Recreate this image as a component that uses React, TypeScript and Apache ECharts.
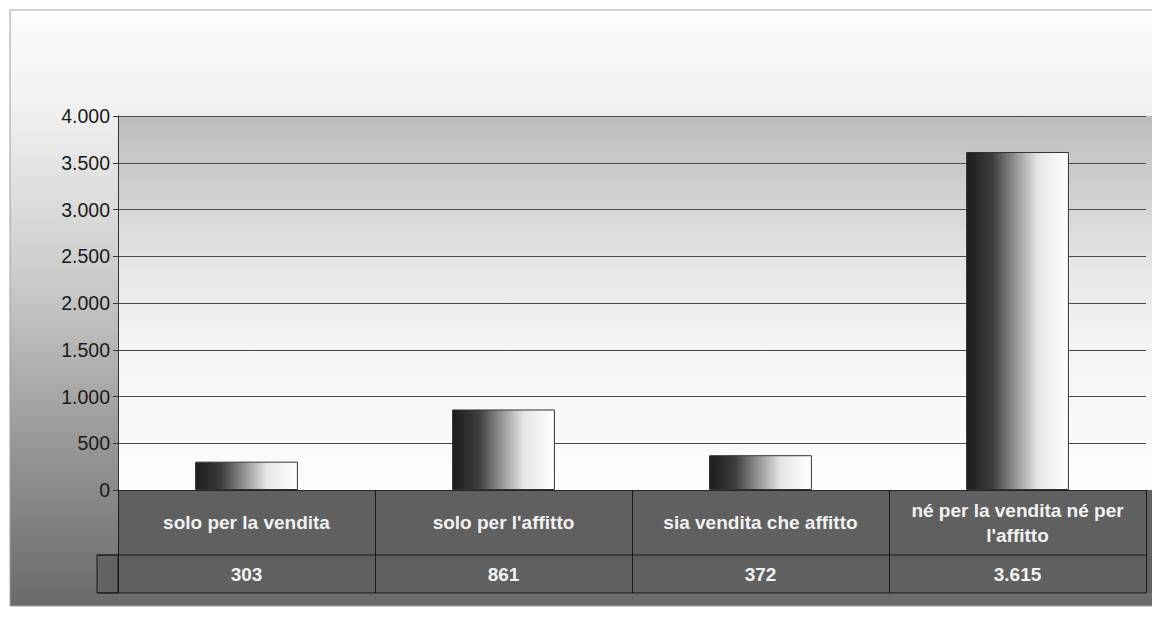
import React, { useEffect, useRef } from "react";
import * as echarts from "echarts";

const categories = [
  "solo per la vendita",
  "solo per l'affitto",
  "sia vendita che affitto",
  "né per la vendita né per\nl'affitto",
];
const values = [303, 861, 372, 3615];
const yMin = 0;
const yMax = 4000;
const yStep = 500;

const fmt = (n: number) => String(n).replace(/\B(?=(\d{3})+(?!\d))/g, ".");
const valueLabels = values.map(fmt);

const FONT = "'Liberation Sans', Arial, sans-serif";

export default function App() {
  const ref = useRef<HTMLDivElement>(null);
  useEffect(() => {
    if (!ref.current) return;
    const chart = echarts.init(ref.current, null, { renderer: "svg" });
    const gridLeft = 118;
    const gridTop = 116;
    const zeroY = 490;
    const row1Bottom = 555;
    const row2Bottom = 593;
    const gridRight = 1146;
    chart.setOption({
      animation: false,
      backgroundColor: "#ffffff",
      graphic: [
        {
          type: "rect",
          z: -10,
          shape: { x: 10, y: 10, width: 1150, height: 596 },
          style: {
            fill: {
              type: "linear", x: 0, y: 0, x2: 0, y2: 1,
              colorStops: [
                { offset: 0, color: "#fdfdfd" },
                { offset: 0.17, color: "#f0f0f0" },
                { offset: 0.45, color: "#cbcbcb" },
                { offset: 0.75, color: "#939393" },
                { offset: 1, color: "#6a6a6a" },
              ],
            },
            stroke: "#a0a0a0",
            lineWidth: 1,
          },
        },
        {
          type: "rect",
          z: -9,
          shape: { x: gridLeft, y: gridTop, width: 1152 - gridLeft, height: zeroY - gridTop },
          style: {
            fill: {
              type: "linear", x: 0, y: 0, x2: 0, y2: 1,
              colorStops: [
                { offset: 0, color: "#bdbdbd" },
                { offset: 0.2, color: "#d0d0d0" },
                { offset: 0.4, color: "#e6e6e6" },
                { offset: 0.6, color: "#f4f4f4" },
                { offset: 1, color: "#fdfdfd" },
              ],
            },
          },
        },
        {
          type: "rect",
          z: -9,
          shape: { x: gridLeft, y: zeroY, width: 1152 - gridLeft, height: row2Bottom - zeroY },
          style: { fill: "#606060" },
        },
        {
          type: "rect",
          z: -9,
          shape: { x: 97, y: row1Bottom, width: gridLeft - 97, height: row2Bottom - row1Bottom },
          style: { fill: "#636363", stroke: "#1a1a1a", lineWidth: 1 },
        },
        {
          type: "line",
          z: 10,
          shape: { x1: 97, y1: row1Bottom, x2: gridRight, y2: row1Bottom },
          style: { stroke: "#1a1a1a", lineWidth: 1 },
        },
        {
          type: "line",
          z: 10,
          shape: { x1: 97, y1: row2Bottom, x2: gridRight, y2: row2Bottom },
          style: { stroke: "#1a1a1a", lineWidth: 1 },
        },
      ],
      grid: {
        left: gridLeft,
        top: gridTop,
        width: gridRight - gridLeft,
        height: zeroY - gridTop,
        containLabel: false,
      },
      xAxis: [
        {
          type: "category",
          data: categories,
          position: "bottom",
          boundaryGap: true,
          axisLine: { show: true, lineStyle: { color: "#222", width: 1 } },
          axisTick: {
            show: true,
            inside: false,
            length: row2Bottom - zeroY,
            lineStyle: { color: "#1a1a1a", width: 1 },
          },
          axisLabel: {
            interval: 0,
            margin: (row1Bottom - zeroY) / 2,
            verticalAlign: "middle",
            color: "#f2f2f2",
            fontFamily: FONT,
            fontWeight: "bold",
            fontSize: 19,
            lineHeight: 25,
          },
          splitLine: { show: false },
        },
        {
          type: "category",
          data: valueLabels,
          position: "bottom",
          offset: 0,
          boundaryGap: true,
          axisLine: { show: false },
          axisTick: { show: false },
          axisLabel: {
            interval: 0,
            margin: (row1Bottom - zeroY) + (row2Bottom - row1Bottom) / 2,
            verticalAlign: "middle",
            color: "#f2f2f2",
            fontFamily: FONT,
            fontWeight: "bold",
            fontSize: 19,
          },
        },
      ],
      yAxis: {
        type: "value",
        min: yMin,
        max: yMax,
        interval: yStep,
        axisLine: { show: true, lineStyle: { color: "#333", width: 1 } },
        axisTick: { show: true, length: 5, lineStyle: { color: "#333" } },
        axisLabel: {
          margin: 8,
          color: "#1a1a1a",
          fontFamily: FONT,
          fontSize: 19.5,
          formatter: (v: number) => fmt(v),
        },
        splitLine: { show: true, lineStyle: { color: "#4a4a4a", width: 1 } },
      },
      series: [
        {
          type: "bar",
          data: values,
          xAxisIndex: 0,
          barWidth: "40%",
          itemStyle: {
            color: {
              type: "linear", x: 0, y: 0, x2: 1, y2: 0,
              colorStops: [
                { offset: 0, color: "#1c1c1c" },
                { offset: 0.25, color: "#3c3c3c" },
                { offset: 0.5, color: "#9c9c9c" },
                { offset: 0.7, color: "#e6e6e6" },
                { offset: 1, color: "#ffffff" },
              ],
            },
            borderColor: "#333",
            borderWidth: 1,
          },
        },
      ],
    });
    return () => chart.dispose();
  }, []);
  return (
    <div
      ref={ref}
      style={{ position: "fixed", left: 0, top: 0, width: 1152, height: 617 }}
    />
  );
}
